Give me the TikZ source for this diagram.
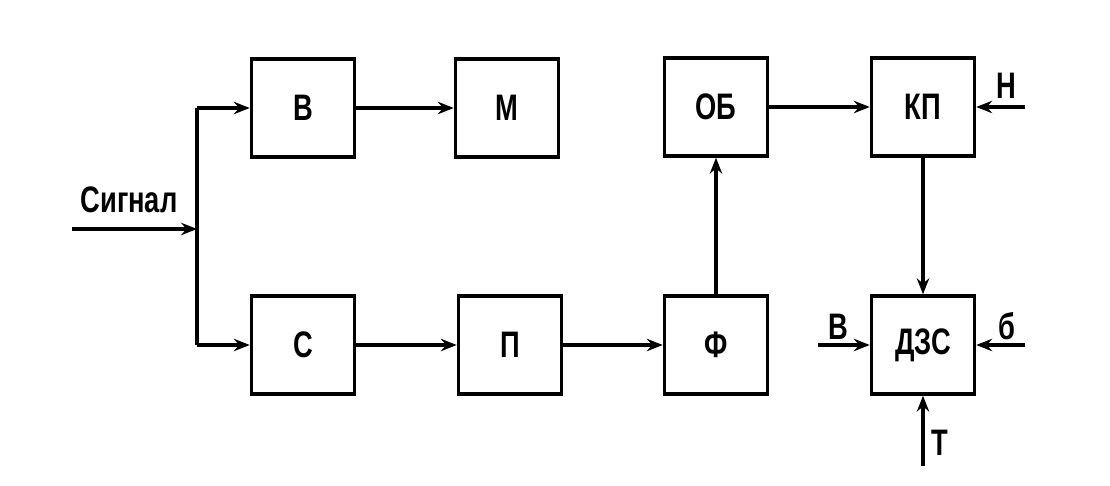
\documentclass[tikz,border=0pt]{standalone}
\usepackage{fontspec}
\setmainfont{Liberation Sans}
\newfontfamily\lblfont[FakeStretch=0.74]{Liberation Sans}
\usetikzlibrary{arrows.meta}

\begin{document}
\begin{tikzpicture}[
  x=0.02cm, y=-0.02cm,
  >={Stealth[length=9pt,width=7pt]},
  blk/.style={draw, line width=2pt, minimum width=2.06cm, minimum height=1.96cm,
    font=\lblfont\bfseries\fontsize{21}{23}\selectfont},
  lbl/.style={font=\lblfont\bfseries\fontsize{21}{23}\selectfont, inner sep=0pt},
  wire/.style={line width=1.8pt},
]
\path [use as bounding box] (0,0) rectangle (1110,486);

% blocks
\node [blk] (v) at (303,108) {В};
\node [blk] (m) at (507,108) {М};
\node [blk] (s) at (303,345) {С};
\node [blk] (p) at (510,345) {П};
\node [blk] (f) at (716,345) {Ф};
\node [blk] (ob) at (716,107) {ОБ};
\node [blk] (kp) at (923,107) {КП};
\node [blk] (dzs) at (923,345) {ДЗС};

% signal input and branch
\node [lbl] (sig) at (129,200) {Сигнал};
\coordinate (in) at (72,229);
\coordinate (br) at (197,229);
\draw [wire, ->] (in) -- (br);
\draw [wire] (br |- v.west) -- (br |- s.west);
\draw [wire, ->] (br |- v.west) -- (v.west);
\draw [wire, ->] (br |- s.west) -- (s.west);

% main chain
\draw [wire, ->] (v) -- (m);
\draw [wire, ->] (s) -- (p);
\draw [wire, ->] (p) -- (f);
\draw [wire, ->] (f) -- (ob);
\draw [wire, ->] (ob) -- (kp);
\draw [wire, ->] (kp) -- (dzs);

% outer inputs
\coordinate (nIn) at ([xshift=0.98cm]kp.east);
\coordinate (vIn) at ([xshift=-1.04cm]dzs.west);
\coordinate (bIn) at ([xshift=0.98cm]dzs.east);
\coordinate (tIn) at ([yshift=-1.4cm]dzs.south);
\draw [wire, ->] (nIn) -- (kp.east);
\draw [wire, ->] (vIn) -- (dzs.west);
\draw [wire, ->] (bIn) -- (dzs.east);
\draw [wire, ->] (tIn) -- (dzs.south);
\node [lbl] (nLbl) at (1006,86) {Н};
\node [lbl] (vLbl) at (838,327) {В};
\node [lbl] (bLbl) at (1007,326) {б};
\node [lbl] (tLbl) at (940,443) {Т};
\end{tikzpicture}
\end{document}
